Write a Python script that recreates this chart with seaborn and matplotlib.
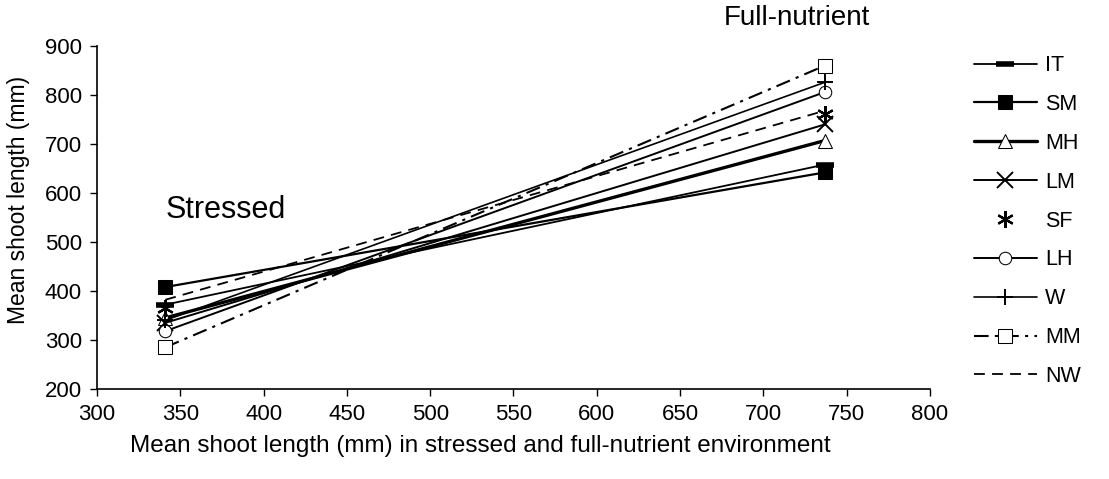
import matplotlib
matplotlib.use("Agg")
import matplotlib.pyplot as plt
import seaborn as sns
import pandas as pd

sns.set_theme(style="white")
plt.rcParams['font.family'] = ['Liberation Sans', 'DejaVu Sans']

environments = ["Stressed", "Full-nutrient"]
env_means = [341, 737]
lines = ["IT", "SM", "MH", "LM", "SF", "LH", "W", "MM", "NW"]
stressed = [372, 408, 345, 335, 365, 318, 340, 285, 382]
full = [658, 642, 707, 740, 762, 806, 826, 860, 768]

styles = {
    "IT": dict(marker="_", markersize=13, markeredgewidth=4, linestyle="-", linewidth=1.3),
    "SM": dict(marker="s", markersize=10, markerfacecolor="black", linestyle="-", linewidth=1.6),
    "MH": dict(marker="^", markersize=10, markerfacecolor="white", linestyle="-", linewidth=2.4),
    "LM": dict(marker="x", markersize=11, markeredgewidth=1.4, linestyle="-", linewidth=1.4),
    "SF": dict(marker=(6, 2, 0), markersize=12, markeredgewidth=1.6, linestyle="none"),
    "LH": dict(marker="o", markersize=9, markerfacecolor="white", linestyle="-", linewidth=1.4),
    "W": dict(marker="+", markersize=11, markeredgewidth=1.4, linestyle="-", linewidth=1.2),
    "MM": dict(marker="s", markersize=10, markerfacecolor="white", linestyle=(0, (7, 3, 1.5, 3)), linewidth=1.5),
    "NW": dict(marker=None, linestyle=(0, (6, 4)), linewidth=1.3),
}

rows = []
for name, s, f in zip(lines, stressed, full):
    rows.append(dict(line=name, env=environments[0], x=env_means[0], y=s))
    rows.append(dict(line=name, env=environments[1], x=env_means[1], y=f))
df = pd.DataFrame(rows)

fig = plt.figure(figsize=(11.09, 4.79), dpi=100)
ax = fig.add_axes([0.0875, 0.188, 0.751, 0.716])

for name in lines:
    sub = df[df["line"] == name]
    st = dict(styles[name])
    sns.lineplot(data=sub, x="x", y="y", ax=ax, color="black", label=name,
                 markeredgecolor="black", sort=False, **st)

ax.set_xlim(300, 800)
ax.set_ylim(200, 900)
ax.set_xticks(range(300, 801, 50))
ax.set_yticks(range(200, 901, 100))
ax.tick_params(axis="both", labelsize=16, colors="black", direction="out",
               length=5, width=1, bottom=True, left=True, pad=6)
for sp in ["top", "right"]:
    ax.spines[sp].set_visible(False)
for sp in ["left", "bottom"]:
    ax.spines[sp].set_color("black")
    ax.spines[sp].set_linewidth(1.2)

ax.set_xlabel("Mean shoot length (mm) in stressed and full-nutrient environment",
              fontsize=17.5, color="black")
ax.xaxis.set_label_coords(0.46, -0.135)
ax.set_ylabel("Mean shoot length (mm)", fontsize=16.5, color="black")
ax.yaxis.set_label_coords(-0.08, 0.55)

ax.text(341, 565, environments[0], fontsize=22, ha="left", va="center", color="black")
ax.text(676, 957, environments[1], fontsize=20, ha="left", va="center",
        color="black", clip_on=False)

leg = ax.legend(loc="upper left", bbox_to_anchor=(1.03, 1.03), frameon=False,
                fontsize=15.5, handlelength=2.9, labelspacing=0.83, handletextpad=0.4)
for t in leg.get_texts():
    t.set_color("black")

fig.savefig("out.png", dpi=100)
